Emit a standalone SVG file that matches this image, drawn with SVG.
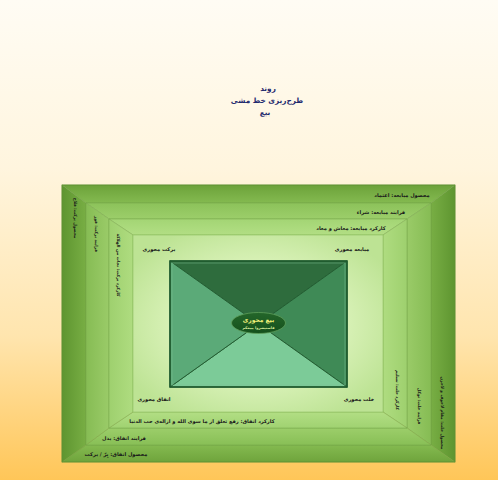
<svg xmlns="http://www.w3.org/2000/svg" width="498" height="480" viewBox="0 0 498 480">
<defs>
<linearGradient id="bg" x1="0" y1="0" x2="0" y2="1">
<stop offset="0" stop-color="#FFFCF4"/>
<stop offset="0.35" stop-color="#FFF5DE"/>
<stop offset="0.7" stop-color="#FFE5AE"/>
<stop offset="1" stop-color="#FFC658"/>
</linearGradient>
<linearGradient id="b1t" x1="0" y1="0" x2="0" y2="1"><stop offset="0" stop-color="#6CA23A"/><stop offset="1" stop-color="#84BA50"/></linearGradient>
<linearGradient id="b1b" x1="0" y1="0" x2="0" y2="1"><stop offset="0" stop-color="#84BA50"/><stop offset="1" stop-color="#6FA43C"/></linearGradient>
<linearGradient id="b1l" x1="0" y1="0" x2="1" y2="0"><stop offset="0" stop-color="#5E9530"/><stop offset="1" stop-color="#78AE44"/></linearGradient>
<linearGradient id="b1r" x1="0" y1="0" x2="1" y2="0"><stop offset="0" stop-color="#78AE44"/><stop offset="1" stop-color="#5E9530"/></linearGradient>
<linearGradient id="b2t" x1="0" y1="0" x2="0" y2="1"><stop offset="0" stop-color="#8CC25A"/><stop offset="1" stop-color="#9CCE6A"/></linearGradient>
<linearGradient id="b2b" x1="0" y1="0" x2="0" y2="1"><stop offset="0" stop-color="#9CCE6A"/><stop offset="1" stop-color="#88BF56"/></linearGradient>
<linearGradient id="b2l" x1="0" y1="0" x2="1" y2="0"><stop offset="0" stop-color="#86BC54"/><stop offset="1" stop-color="#9ACB68"/></linearGradient>
<linearGradient id="b2r" x1="0" y1="0" x2="1" y2="0"><stop offset="0" stop-color="#9ACB68"/><stop offset="1" stop-color="#86BC54"/></linearGradient>
<linearGradient id="b3t" x1="0" y1="0" x2="0" y2="1"><stop offset="0" stop-color="#A3D574"/><stop offset="1" stop-color="#B2DE84"/></linearGradient>
<linearGradient id="b3b" x1="0" y1="0" x2="0" y2="1"><stop offset="0" stop-color="#B2DE84"/><stop offset="1" stop-color="#A0D271"/></linearGradient>
<linearGradient id="b3l" x1="0" y1="0" x2="1" y2="0"><stop offset="0" stop-color="#9ED06E"/><stop offset="1" stop-color="#AFDC80"/></linearGradient>
<linearGradient id="b3r" x1="0" y1="0" x2="1" y2="0"><stop offset="0" stop-color="#AFDC80"/><stop offset="1" stop-color="#9ED06E"/></linearGradient>
<radialGradient id="inner" cx="0.5" cy="0.5" r="0.6">
<stop offset="0" stop-color="#EAF8D6"/>
<stop offset="0.6" stop-color="#D6F0B4"/>
<stop offset="1" stop-color="#BDE394"/>
</radialGradient>
<linearGradient id="ell" x1="0" y1="0" x2="0" y2="1"><stop offset="0" stop-color="#24662A"/><stop offset="1" stop-color="#14501C"/></linearGradient>
<style>
.band{stroke:#6E9F45;stroke-width:0.6;stroke-opacity:0.7}
.t{font-family:"DejaVu Sans","Noto Sans",sans-serif;font-weight:bold;font-size:5.1px;fill:#1A1A1A;text-anchor:middle;direction:rtl}
.v{font-family:"DejaVu Sans","Noto Sans",sans-serif;font-weight:bold;font-size:4.2px;fill:#1A1A1A;text-anchor:middle;direction:rtl}
.title{font-family:"DejaVu Sans","Noto Sans",sans-serif;font-weight:bold;font-size:7.3px;fill:#1F2A6E;text-anchor:middle;direction:rtl}
.tri{stroke:#245E33;stroke-width:1}
</style>
</defs>
<rect x="0" y="0" width="498" height="480" fill="url(#bg)"/>
<g id="title">
<text class="title" x="268" y="91">روند</text>
<text class="title" x="267" y="103">طرح‌ریزی خط مشی</text>
<text class="title" x="265" y="115">بیع</text>
</g>
<g id="band1">
<polygon class="band" fill="url(#b1t)" points="62,185 455,185 431,203 86,203"/>
<polygon class="band" fill="url(#b1r)" points="455,185 455,462 431,445 431,203"/>
<polygon class="band" fill="url(#b1b)" points="62,462 455,462 431,445 86,445"/>
<polygon class="band" fill="url(#b1l)" points="62,185 86,203 86,445 62,462"/>
<rect x="62" y="185" width="393" height="277" fill="none" stroke="#5C8F30" stroke-width="0.8"/>
</g>
<g id="band2">
<polygon class="band" fill="url(#b2t)" points="86,203 431,203 407,219 109,219"/>
<polygon class="band" fill="url(#b2r)" points="431,203 431,445 407,428 407,219"/>
<polygon class="band" fill="url(#b2b)" points="86,445 431,445 407,428 109,428"/>
<polygon class="band" fill="url(#b2l)" points="86,203 109,219 109,428 86,445"/>
</g>
<g id="band3">
<polygon class="band" fill="url(#b3t)" points="109,219 407,219 383,235 133,235"/>
<polygon class="band" fill="url(#b3r)" points="407,219 407,428 383,412 383,235"/>
<polygon class="band" fill="url(#b3b)" points="109,428 407,428 383,412 133,412"/>
<polygon class="band" fill="url(#b3l)" points="109,219 133,235 133,412 109,428"/>
</g>
<g id="innerArea">
<rect x="133" y="235" width="250" height="177" fill="url(#inner)" stroke="#8FBF62" stroke-width="0.6"/>
</g>
<g id="centerRect">
<polygon class="tri" fill="#2E6C3D" points="170,261 347,261 258.5,324"/>
<polygon class="tri" fill="#3F8A56" points="347,261 347,387 258.5,324"/>
<polygon class="tri" fill="#7CCB98" points="347,387 170,387 258.5,324"/>
<polygon class="tri" fill="#5BAA78" points="170,387 170,261 258.5,324"/>
<rect x="170" y="261" width="177" height="126" fill="none" stroke="#1F5A2E" stroke-width="1.6"/>
<rect x="172" y="263" width="173" height="122" fill="none" stroke="#7FC094" stroke-width="0.7" stroke-opacity="0.7"/>
</g>
<g id="centerNode">
<ellipse cx="258.5" cy="323" rx="27" ry="10.5" fill="url(#ell)" stroke="#5E9E5A" stroke-width="0.8"/>
<text x="258.5" y="322" style="font-family:'DejaVu Sans','Noto Sans',sans-serif;font-weight:bold;font-size:6px;fill:#F2F27A;text-anchor:middle;direction:rtl">بیع محوری</text>
<text x="258.5" y="329" style="font-family:'DejaVu Sans','Noto Sans',sans-serif;font-weight:bold;font-size:3.6px;fill:#D8EC9A;text-anchor:middle;direction:rtl">فاستبشروا ببیعکم</text>
</g>
<g id="labels-top">
<text class="t" x="402" y="197">محصول مبایعه: اعتماد</text>
<text class="t" x="381" y="214">فرایند مبایعه: شراء</text>
<text class="t" x="351" y="230">کارکرد مبایعه: معاش و معاد</text>
<text class="t" x="352" y="251">مبایعه محوری</text>
</g>
<g id="labels-left">
<text class="t" x="159" y="251">برکت محوری</text>
<text class="v" transform="translate(74,218) rotate(90)">محصول برکت: فلاح</text>
<text class="v" transform="translate(95,234) rotate(90)">فرایند برکت: فوز</text>
<text class="v" transform="translate(117,265) rotate(90)">کارکرد برکت: نجات من الهلاکة</text>
</g>
<g id="labels-bottom">
<text class="t" x="154" y="401">انفاق محوری</text>
<text class="t" x="202" y="423">کارکرد انفاق: رفع تعلق از ما سوی الله و ازاله‌ی حب الدنیا</text>
<text class="t" x="124" y="440">فرایند انفاق: بذل</text>
<text class="t" x="116" y="456">محصول انفاق: بِرّ / برکت</text>
</g>
<g id="labels-right">
<text class="t" x="359" y="401">خلت محوری</text>
<text class="v" transform="translate(396,390) rotate(90)">کارکرد خلت: تسلیم</text>
<text class="v" transform="translate(418,406) rotate(90)">فرایند خلت: توکل</text>
<text class="v" transform="translate(441,413) rotate(90)">محصول خلت: مقام لاخوف و لاحزن</text>
</g>
</svg>
